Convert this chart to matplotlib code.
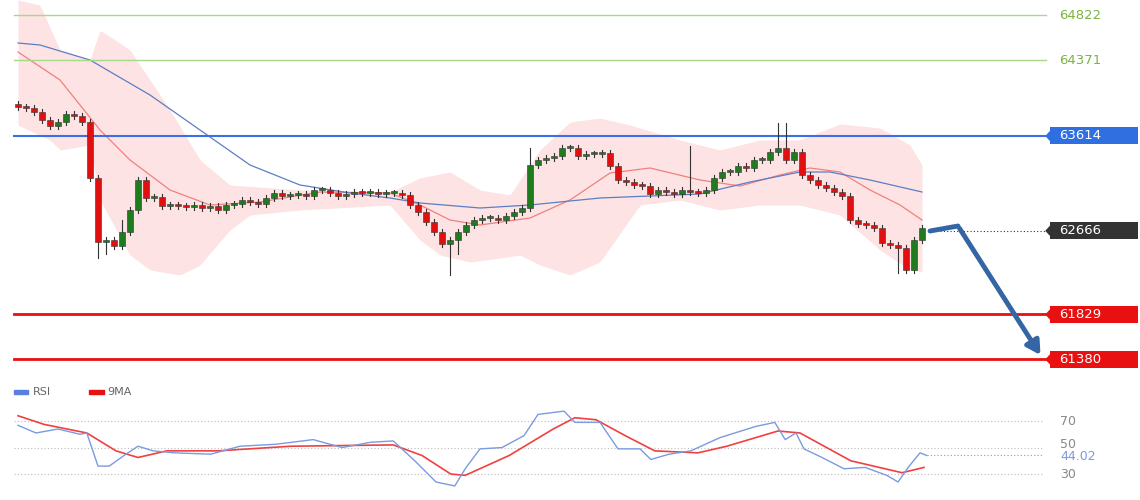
import numpy as np
import matplotlib.pyplot as plt

closes = [63904,63894,63854,63774,63714,63754,63834,63814,63754,63194,62554,62574,62514,62654,62874,
          63174,62994,63004,62914,62924,62914,62904,62924,62894,62914,62874,62924,62934,62974,62954,
          62934,62994,63044,63014,63024,63034,63014,63074,63074,63044,63014,63034,63054,63044,63054,
          63034,63044,63044,63024,62924,62854,62754,62654,62534,62574,62654,62724,62774,62794,62794,
          62774,62814,62854,62894,63324,63374,63394,63414,63494,63494,63414,63434,63434,63444,63314,
          63174,63154,63124,63114,63034,63074,63054,63034,63074,63054,63044,63074,63194,63254,63254,
          63314,63294,63374,63374,63454,63494,63374,63454,63224,63174,63124,63094,63054,63014,62774,
          62734,62724,62694,62544,62524,62494,62274,62574,62694]
first_open = 63934
big_lows = {10: 62394, 11: 62434, 54: 62224, 55: 62434, 110: 62244}
big_highs = {95: 63744, 96: 63744, 64: 63494, 13: 62774, 84: 63514}
wick = 30

blue_ma_x = [0,2.75,9,16.5,22.75,29,35.25,41.5,46.5,50.25,57.75,64,72.75,79,85.25,91.5,97.75,101.5,106.5,113]
blue_ma_y = [64544,64524,64374,64024,63674,63324,63124,63044,62994,62944,62894,62924,62994,63014,63034,63154,63254,63254,63174,63054]
red_ma_x = [0,5.25,10.25,14,19,24,30.25,37.75,46.5,50.25,54,57.75,64,69,74,79,85.25,90.25,95.25,99,102.75,106.5,110.25,113]
red_ma_y = [64454,64174,63674,63374,63074,62924,62954,63054,63044,62924,62774,62724,62794,62974,63244,63294,63174,63114,63224,63294,63254,63074,62924,62774]
up_x = [0,2.75,5.25,9,10.25,14,19,22.75,26.5,35.25,46.5,50.25,54,57.75,61.5,65.25,69,72.75,76.5,82.75,87.75,92.75,97.75,102.75,107.75,111.5,113]
up_y = [64974,64924,64474,64374,64674,64474,63874,63374,63124,63074,63054,63194,63254,63074,63024,63474,63754,63794,63724,63574,63474,63574,63574,63734,63694,63524,63324]
lo_x = [0,4,5.25,9,10.25,14,16.5,20.25,22.75,26.5,29,35.25,46.5,50.25,52.75,56.5,60.25,62.75,65.25,69,72.75,77.75,82.75,87.75,92.75,97.75,102.75,107.75,111.5,113]
lo_y = [63724,63574,63474,63524,62974,62424,62274,62224,62324,62674,62824,62874,62924,62574,62424,62354,62394,62424,62324,62224,62354,62924,62974,62874,62924,62924,62824,62474,62274,62254]

green_levels = [64822, 64371]
blue_level = 63614
red_levels = [61829, 61380]
last_price = 62666

rsi_x = [0,2.25,5,7.75,8.6,10,11.4,13.25,15,16.9,19.6,24.1,27.75,32.25,36.9,40.5,44.1,46.9,49.6,52.25,54.6,55.9,
         57.75,60.5,63.25,65,68.25,69.6,72.75,75,77.75,79.1,81.4,84.1,87.75,89.6,92.25,94.6,95.9,97.25,98.25,
         100.5,103.25,105.9,108.6,110,111.4,112.75,113.6]
rsi_y = [66.8,61,64,60,61,36,36,44,51,47.5,46,45,51,52.5,56,50,54,55,40,24,21,34,49,50,59,75,77.5,69,69,49,49,41,
         45,47.5,57.5,61,66,69,56,61,49,42.5,34,35,29,24,36,46,44]
ma9_x = [0,3.25,8.6,12.25,15,18.6,25,34.1,46.9,50.5,54.1,55.9,61.4,66.9,69.6,72.25,75.9,79.6,85,88.6,95,97.75,104.1,110.5,113.25]
ma9_y = [74,67.5,61,47.5,42.5,47.5,47.5,51,52,44,30,29,44,64,72.5,71,59,47.5,46,51,62.5,61,40,31,35]
rsi_last = 44.02

fig = plt.figure(figsize=(11.4, 5), dpi=100)
fig.patch.set_facecolor('white')
ax = fig.add_axes([0, 0.25, 1, 0.75])
ax.set_xlim(-2.25, 140.25)
ax.set_ylim(61224, 64974)
ax.axis('off')

# bollinger band
bx = np.linspace(0, 113, 300)
ax.fill_between(bx, np.interp(bx, lo_x, lo_y), np.interp(bx, up_x, up_y), color='#fde3e3', lw=0)
ax.plot(red_ma_x, red_ma_y, color='#f08080', lw=0.9)
ax.plot(blue_ma_x, blue_ma_y, color='#5b7fc4', lw=0.9)

opens = [first_open] + closes[:-1]
for i, (o, c) in enumerate(zip(opens, closes)):
    hi = big_highs.get(i, max(o, c) + wick)
    lo = big_lows.get(i, min(o, c) - wick)
    ax.plot([i, i], [lo, hi], color='#333333', lw=0.8, zorder=3)
    col = '#1e7b1e' if c >= o else '#e01010'
    h = max(abs(c - o), 15)
    ax.bar(i, h, bottom=min(o, c), width=0.65, color=col, edgecolor='#333333', lw=0.4, zorder=4)

xl, xr = -0.5, 128.5
for lv in green_levels:
    ax.plot([xl, xr], [lv, lv], color='#a8d88a', lw=1)
ax.plot([xl, xr], [blue_level] * 2, color='#3a6fe8', lw=1.5)
for lv in red_levels:
    ax.plot([xl, xr], [lv, lv], color='#e81010', lw=2)
ax.plot([114, 128.5], [last_price] * 2, color='#333333', lw=0.8, ls=(0, (1, 2)))

# projection arrow
ax.plot([114, 117.5], [62664, 62714], color='#3465a4', lw=3.5, solid_capstyle='round')
ax.annotate('', xy=(128, 61400), xytext=(117.5, 62714),
            arrowprops=dict(arrowstyle='-|>,head_length=0.8,head_width=0.45', color='#3465a4', lw=3.5))

for lv in green_levels:
    ax.text(130.2, lv, str(lv), va='center', fontsize=9.5, color='#7cb342')
for y, t, fc in [(blue_level, '63614', '#2f6fe0'), (last_price, '62666', '#333333'),
                 (red_levels[0], '61829', '#e81010'), (red_levels[1], '61380', '#e81010')]:
    ax.fill([129.0, 140.0, 140.0, 129.0], [y - 85, y - 85, y + 85, y + 85], color=fc, lw=0)
    ax.fill([128.4, 129.1, 129.1], [y, y + 60, y - 60], color=fc, lw=0)
    ax.text(130.2, y, t, va='center', ha='left', fontsize=9.5, color='white')

# RSI panel
ax2 = fig.add_axes([0, 0, 1, 0.24])
ax2.set_xlim(-2.25, 140.25)
ax2.set_ylim(10.4, 101)
ax2.axis('off')
for lv in [70, 50, 30]:
    ax2.plot([-0.5, 128], [lv, lv], color='#bbbbbb', lw=0.8, ls=(0, (1, 2)))
    ax2.text(130.3, lv + (2 if lv == 50 else 0), str(lv), va='center', fontsize=9, color='#888888')
ax2.plot(ma9_x, ma9_y, color='#f04040', lw=1.2)
ax2.plot(rsi_x, rsi_y, color='#7a9be0', lw=1)
ax2.plot([113.6, 128], [rsi_last] * 2, color='#7a9be0', lw=0.8, ls=(0, (1, 2)))
ax2.text(130.3, rsi_last - 1, '44.02', va='center', fontsize=9, color='#7a9be0',
         bbox=dict(fc='white', ec='none', pad=0.5))
ax2.add_patch(plt.Rectangle((-0.5, 90.5), 1.8, 2.8, color='#5b7fe0'))
ax2.text(1.8, 92, 'RSI', va='center', fontsize=8, color='#666666')
ax2.add_patch(plt.Rectangle((8.9, 90.5), 1.8, 2.8, color='#e81010'))
ax2.text(11.2, 92, '9MA', va='center', fontsize=8, color='#666666')

fig.savefig('out.png', dpi=100)
